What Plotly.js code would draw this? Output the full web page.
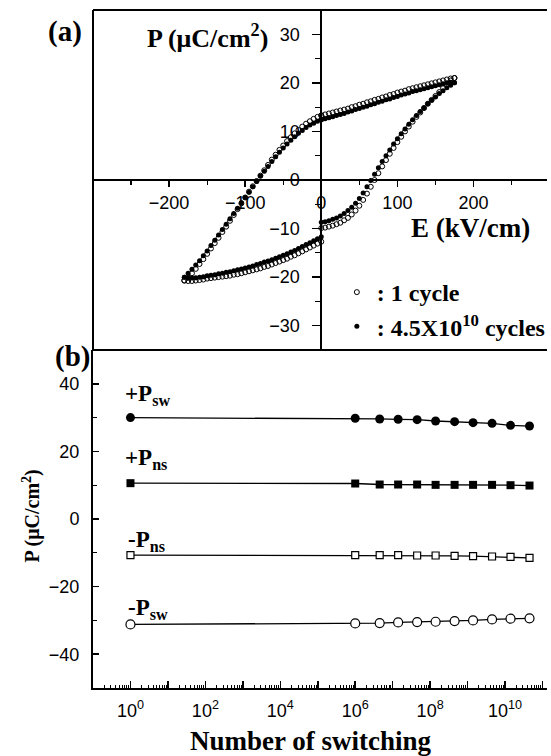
<!DOCTYPE html>
<html>
<head>
<meta charset="utf-8">
<script src="https://cdn.plot.ly/plotly-3.0.1.min.js"></script>
<style>html,body{margin:0;padding:0;overflow:hidden;background:#fff}#chart{width:551px;height:756px}</style>
</head>
<body>
<div id="chart"></div>
<script>
// ---------- Panel (a): P-E hysteresis loops ----------
const E_pos = [0,5,10,15,20,25,30,35,40,45,50,55,60,65,70,75,80,85,90,95,100,105,110,115,120,125,130,135,140,145,150,155,160,165,170,175];
const E_neg = [0,-5,-10,-15,-20,-25,-30,-35,-40,-45,-50,-55,-60,-65,-70,-75,-80,-85,-90,-95,-100,-105,-110,-115,-120,-125,-130,-135,-140,-145,-150,-155,-160,-165,-170,-175,-180];

// 1 cycle (open circles)
const P1_lowerRight = [-9.9,-9.8,-9.6,-9.4,-9.1,-8.8,-8.3,-7.8,-7.1,-6.3,-5.3,-4.1,-2.8,-1.4,0.0,1.4,2.8,4.1,5.4,6.6,7.8,8.9,10.0,11.0,12.0,13.0,13.9,14.8,15.7,16.5,17.3,18.1,18.9,19.7,20.5,21.0];
const P1_upperRight = [13.3,13.5,13.7,13.9,14.1,14.3,14.5,14.7,15.0,15.2,15.5,15.7,16.0,16.2,16.5,16.7,17.0,17.2,17.5,17.7,18.0,18.2,18.4,18.7,18.9,19.1,19.3,19.5,19.7,19.9,20.1,20.3,20.5,20.7,20.9,21.0];
const P1_upperLeft = [13.3,13.0,12.6,12.1,11.6,11.0,10.3,9.6,8.8,8.0,7.1,6.2,5.2,4.2,3.1,2.0,0.9,-0.2,-1.3,-2.4,-3.6,-4.8,-6.0,-7.2,-8.4,-9.6,-10.7,-11.9,-13.0,-14.1,-15.2,-16.3,-17.3,-18.3,-19.2,-20.1,-20.7];
const P1_lowerLeft = [-12.7,-13.1,-13.5,-13.9,-14.3,-14.7,-15.1,-15.5,-15.8,-16.2,-16.5,-16.8,-17.1,-17.4,-17.7,-17.9,-18.2,-18.4,-18.6,-18.8,-19.0,-19.2,-19.4,-19.5,-19.7,-19.8,-19.9,-20.0,-20.1,-20.2,-20.3,-20.5,-20.6,-20.7,-20.8,-20.8,-20.7];

// 4.5x10^10 cycles (filled circles)
const P2_lowerRight = [-8.7,-8.6,-8.4,-8.1,-7.8,-7.4,-6.9,-6.3,-5.6,-4.8,-3.8,-2.7,-1.4,-0.1,1.2,2.5,3.8,5.0,6.2,7.4,8.5,9.5,10.5,11.5,12.4,13.3,14.1,14.9,15.7,16.4,17.1,17.8,18.4,19.0,19.5,20.0];
const P2_upperRight = [12.4,12.6,12.8,13.0,13.3,13.5,13.7,14.0,14.2,14.5,14.7,15.0,15.2,15.5,15.7,16.0,16.2,16.5,16.7,17.0,17.2,17.5,17.7,17.9,18.2,18.4,18.6,18.8,19.0,19.2,19.4,19.6,19.8,20.0,20.1,20.0];
const P2_upperLeft = [12.4,12.1,11.7,11.3,10.8,10.2,9.6,8.9,8.2,7.4,6.6,5.7,4.8,3.8,2.8,1.8,0.8,-0.3,-1.4,-2.5,-3.6,-4.7,-5.8,-6.9,-8.0,-9.1,-10.2,-11.3,-12.4,-13.5,-14.6,-15.6,-16.6,-17.5,-18.4,-19.2,-20.0];
const P2_lowerLeft = [-11.7,-12.1,-12.5,-12.9,-13.3,-13.7,-14.1,-14.5,-14.8,-15.2,-15.5,-15.8,-16.1,-16.4,-16.7,-16.9,-17.2,-17.4,-17.7,-17.9,-18.1,-18.3,-18.5,-18.7,-18.9,-19.0,-19.2,-19.3,-19.5,-19.6,-19.7,-19.9,-20.0,-20.1,-20.2,-20.2,-20.0];

const xTickVals_a = [-200,-100,0,100,200];
const yTickVals_a = [-30,-20,-10,0,10,20,30];

// ---------- Panel (b): retention vs. number of switching ----------
const cycles = [1, 1e6, 4.5e6, 1.4e7, 4.5e7, 1.4e8, 4.5e8, 1.4e9, 4.5e9, 1.4e10, 4.5e10];
const plusPsw  = [30.0, 29.8, 29.6, 29.5, 29.4, 29.0, 28.8, 28.5, 28.3, 27.7, 27.5];
const plusPns  = [10.6, 10.5, 10.2, 10.2, 10.2, 10.1, 10.1, 10.1, 10.1, 10.0, 9.9];
const minusPns = [-10.7, -10.7, -10.7, -10.7, -10.8, -10.8, -10.9, -11.0, -11.1, -11.2, -11.5];
const minusPsw = [-31.2, -30.9, -30.8, -30.6, -30.5, -30.4, -30.2, -30.0, -29.7, -29.5, -29.4];
const decadeVals = [1,10,100,1e3,1e4,1e5,1e6,1e7,1e8,1e9,1e10,1e11];
const decadeText = ['10<sup>0</sup>','','10<sup>2</sup>','','10<sup>4</sup>','','10<sup>6</sup>','','10<sup>8</sup>','','10<sup>10</sup>',''];

// ---------- geometry helpers (pixel -> paper) ----------
const W = 551, H = 756, ML = 93, MR = 0, MT = 10, MB = 68;
const PW = W - ML - MR, PH = H - MT - MB;
const px = v => (v - ML) / PW;
const py = v => (H - MB - v) / PH;
const splitY = py(350);

function loopX() { return E_pos.concat(E_pos.slice().reverse(), E_neg, E_neg.slice().reverse()); }
function loopY(lr, ur, ul, ll) { return lr.concat(ur.slice().reverse(), ul, ll.slice().reverse()); }

const serif = 'Liberation Serif, Times New Roman, serif';
const sans = 'Liberation Sans, Arial, Helvetica, sans-serif';

const traces = [
  {x: loopX(), y: loopY(P2_lowerRight, P2_upperRight, P2_upperLeft, P2_lowerLeft), xaxis:'x', yaxis:'y',
   mode:'markers', name:': 4.5X10<sup>10</sup> cycles', legendrank: 2,
   marker:{symbol:'circle', size:5, color:'#000'}},
  {x: loopX(), y: loopY(P1_lowerRight, P1_upperRight, P1_upperLeft, P1_lowerLeft), xaxis:'x', yaxis:'y',
   mode:'markers', name:': 1 cycle', legendrank: 1,
   marker:{symbol:'circle-open', size:5, color:'#000', line:{width:1, color:'#000'}}},
  {x: cycles, y: plusPsw, xaxis:'x2', yaxis:'y2', mode:'lines+markers', showlegend:false,
   line:{color:'#000', width:1.3}, marker:{symbol:'circle', size:9, color:'#000'}},
  {x: cycles, y: plusPns, xaxis:'x2', yaxis:'y2', mode:'lines+markers', showlegend:false,
   line:{color:'#000', width:1.3}, marker:{symbol:'square', size:8, color:'#000'}},
  {x: cycles, y: minusPns, xaxis:'x2', yaxis:'y2', mode:'lines+markers', showlegend:false,
   line:{color:'#000', width:1.3}, marker:{symbol:'square', size:7, color:'#fff', line:{color:'#000', width:1.2}}},
  {x: cycles, y: minusPsw, xaxis:'x2', yaxis:'y2', mode:'lines+markers', showlegend:false,
   line:{color:'#000', width:1.3}, marker:{symbol:'circle', size:9, color:'#fff', line:{color:'#000', width:1.2}}}
];

const tickFont = {family: sans, size: 18, color:'#000'};

const layout = {
  width: W, height: H,
  margin: {l: ML, r: MR, t: MT, b: MB},
  paper_bgcolor:'#fff', plot_bgcolor:'#fff',
  showlegend: true,
  legend: {x: px(339), y: py(270), xanchor:'left', yanchor:'top', bgcolor:'rgba(0,0,0,0)',
           font:{family: serif, size: 24, color:'#000', weight:'bold'}, tracegroupgap: 0, itemwidth: 30},
  xaxis: {domain:[0,1], range:[-300, 296.6], anchor:'free', position: (splitY + 1) / 2,
          showgrid:false, zeroline:false, showline:true, linecolor:'#000', linewidth:2,
          tickmode:'array', tickvals: xTickVals_a, ticks:'outside', ticklen:6, tickwidth:1.5, tickcolor:'#000',
          minor:{dtick:50, tick0:0, ticks:'outside', ticklen:4, tickcolor:'#000', tickwidth:1.2},
          tickfont: tickFont, ticklabelstandoff: 0},
  yaxis: {domain:[splitY, 1], range:[-35, 35], anchor:'free', position: px(323.3),
          showgrid:false, zeroline:false, showline:true, linecolor:'#000', linewidth:2,
          tickmode:'array', tickvals: yTickVals_a, ticks:'outside', ticklen:8, tickwidth:1.5, tickcolor:'#000',
          minor:{dtick:5, tick0:0, ticks:'outside', ticklen:5, tickcolor:'#000', tickwidth:1.2},
          tickfont: tickFont, ticklabelstandoff: 9},
  xaxis2: {domain:[0,1], type:'log', range:[-1, 11.12], anchor:'y2',
           showgrid:false, zeroline:false, showline:true, linecolor:'#000', linewidth:2,
           tickmode:'array', tickvals: decadeVals, ticktext: decadeText,
           ticks:'inside', ticklen:7, tickwidth:1.5, tickcolor:'#000',
           minor:{dtick:'D1', ticks:'inside', ticklen:3, tickcolor:'#000', tickwidth:1},
           tickfont: tickFont, ticklabelstandoff: 5},
  yaxis2: {domain:[0, splitY], range:[-50, 50], anchor:'x2',
           showgrid:false, zeroline:false, showline:true, linecolor:'#000', linewidth:2,
           tickmode:'array', tickvals:[-40,-20,0,20,40], ticks:'inside', ticklen:6, tickwidth:1.5, tickcolor:'#000',
           minor:{dtick:10, tick0:0, ticks:'inside', ticklen:4, tickcolor:'#000', tickwidth:1.2},
           tickfont: tickFont, ticklabelstandoff: 8},
  shapes: [
    {type:'line', xref:'paper', yref:'paper', x0:0, x1:0, y0:splitY, y1:1, line:{color:'#000', width:2}},
    {type:'line', xref:'paper', yref:'paper', x0:0, x1:1, y0:1, y1:1, line:{color:'#000', width:2}},
    {type:'line', xref:'paper', yref:'paper', x0:0, x1:1, y0:splitY, y1:splitY, line:{color:'#000', width:2}}
  ],
  annotations: [
    {text:'<b>(a)</b>', xref:'paper', yref:'paper', x:px(65), y:py(31), xanchor:'center', yanchor:'middle', showarrow:false, font:{family:serif, size:29, color:'#000'}},
    {text:'<b>P (μC/cm<sup>2</sup>)</b>', xref:'paper', yref:'paper', x:px(209), y:py(37), xanchor:'center', yanchor:'middle', showarrow:false, font:{family:serif, size:26, color:'#000'}},
    {text:'<b>E (kV/cm)</b>', xref:'paper', yref:'paper', x:px(474), y:py(228), xanchor:'center', yanchor:'middle', showarrow:false, font:{family:serif, size:27, color:'#000'}},
    {text:'<b>(b)</b>', xref:'paper', yref:'paper', x:px(72), y:py(356), xanchor:'center', yanchor:'middle', showarrow:false, font:{family:serif, size:29, color:'#000'}},
    {text:'<b>+P</b><sub><b>sw</b></sub>', xref:'paper', yref:'paper', x:px(123), y:py(395), xanchor:'left', yanchor:'middle', showarrow:false, font:{family:serif, size:23, color:'#000'}},
    {text:'<b>+P</b><sub><b>ns</b></sub>', xref:'paper', yref:'paper', x:px(123), y:py(459), xanchor:'left', yanchor:'middle', showarrow:false, font:{family:serif, size:23, color:'#000'}},
    {text:'<b>-P</b><sub><b>ns</b></sub>', xref:'paper', yref:'paper', x:px(126), y:py(541), xanchor:'left', yanchor:'middle', showarrow:false, font:{family:serif, size:23, color:'#000'}},
    {text:'<b>-P</b><sub><b>sw</b></sub>', xref:'paper', yref:'paper', x:px(126), y:py(609), xanchor:'left', yanchor:'middle', showarrow:false, font:{family:serif, size:23, color:'#000'}},
    {text:'<b>P (μC/cm<sup>2</sup>)</b>', xref:'paper', yref:'paper', x:px(30), y:py(516), xanchor:'center', yanchor:'middle', textangle:-90, showarrow:false, font:{family:serif, size:20, color:'#000'}},
    {text:'<b>Number of switching</b>', xref:'paper', yref:'paper', x:px(313), y:py(741), xanchor:'center', yanchor:'middle', showarrow:false, font:{family:serif, size:27, color:'#000'}}
  ]
};

Plotly.newPlot('chart', traces, layout, {displayModeBar:false, staticPlot:true});
</script>
</body>
</html>
